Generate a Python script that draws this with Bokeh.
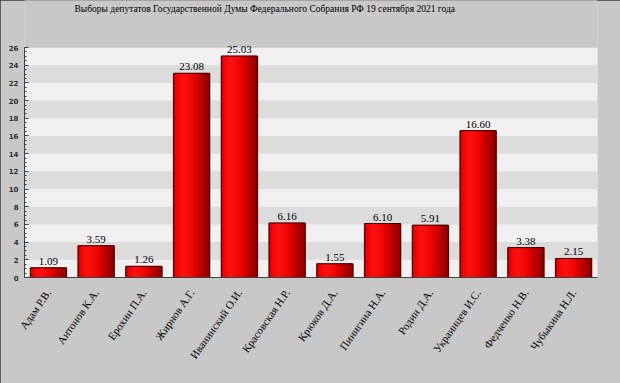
from bokeh.plotting import figure
from bokeh.models import ColumnDataSource, Range1d, FixedTicker, LabelSet, Label, BoxAnnotation
from bokeh.transform import dodge
from bokeh.embed import file_html
from bokeh.resources import INLINE

# ---- data ----
names = ["Адам Р.В.", "Антонов К.А.", "Ерохин П.А.", "Жирнов А.Г.", "Иванинский О.И.",
         "Красовская Н.Р.", "Крюков Д.А.", "Пинигина Н.А.", "Родин Д.А.", "Украинцев И.С.",
         "Федченко Н.В.", "Чубыкина Н.Л."]
values = [1.09, 3.59, 1.26, 23.08, 25.03, 6.16, 1.55, 6.10, 5.91, 16.60, 3.38, 2.15]
labels = [f"{v:.2f}" for v in values]
y_ticks = list(range(0, 27, 2))
title_text = "Выборы депутатов Государственной Думы Федерального Собрания РФ 19 сентября 2021 года"

src = ColumnDataSource(dict(name=names, value=values, label=labels))

W, H = 620, 383
FRAME_BOTTOM = 277   # px from top of canvas where value 0 lies
AXIS_TOP = 47        # px from top where the axis maximum lies
y_max = y_ticks[-1]
y_end = y_max * FRAME_BOTTOM / (FRAME_BOTTOM - AXIS_TOP)   # frame extends to canvas top

p = figure(x_range=names, y_range=Range1d(0, y_end), width=W, height=H,
           output_backend="svg", toolbar_location=None,
           min_border_left=24, min_border_right=23, min_border_top=0,
           min_border_bottom=H - FRAME_BOTTOM)
p.border_fill_color = "#c8c8c8"
p.background_fill_color = "#c8c8c8"
p.outline_line_color = None
p.styles = {"outline": "2px solid #3c3c3c", "outline-offset": "-2px"}

# light plotting area up to the axis maximum (drawn beneath the grid bands)
p.add_layout(BoxAnnotation(bottom=0, top=y_max, fill_color="#f0f0f0", fill_alpha=1.0,
                           line_color=None, level="image"))

# grid bands
p.xgrid.grid_line_color = None
p.ygrid.grid_line_color = None
p.ygrid.ticker = FixedTicker(ticks=y_ticks)
p.ygrid.band_fill_color = "#dcdcdc"
p.ygrid.band_fill_alpha = 1.0

# grey cover above the axis maximum (over any band beyond the last tick)
p.add_layout(BoxAnnotation(bottom=y_max, fill_color="#c8c8c8", fill_alpha=1.0,
                           line_color=None, level="underlay"))

# title (screen units are relative to the frame's lower-left corner)
ttl = Label(x=50, y=FRAME_BOTTOM - 8, x_units="screen", y_units="screen", text=title_text,
            text_font="Liberation Serif", text_font_size="9.5px", text_color="#000000",
            text_align="left", text_baseline="alphabetic")
p.add_layout(ttl)

# gradient bars built from slices
def shade(t):
    pts = [(0.0, 0.84), (0.12, 0.95), (0.3, 1.0), (0.55, 0.93), (0.8, 0.72), (1.0, 0.55)]
    for (a, va), (b, vb) in zip(pts[:-1], pts[1:]):
        if a <= t <= b:
            return va + (vb - va) * (t - a) / (b - a)
    return pts[-1][1]

bar_w = 0.75
n = 16
sw = bar_w / n
for k in range(n):
    t = (k + 0.5) / n
    b = shade(t)
    r = int(255 * b)
    g = int(18 * max(0.0, (b - 0.9) / 0.1))
    col = "#%02x%02x%02x" % (r, g, g)
    off = -bar_w / 2 + (k + 0.5) * sw
    p.vbar(x=dodge("name", off, range=p.x_range), top="value", bottom=0, width=sw * 1.4,
           source=src, fill_color=col, line_color=col, line_width=0.6)
p.vbar(x="name", top="value", bottom=0, width=bar_w, source=src,
       fill_color=None, line_color="#3a0000", line_width=1)

# value labels
lbl = LabelSet(x="name", y="value", text="label", source=src, text_align="center",
               text_baseline="bottom", y_offset=3, text_font="Liberation Serif",
               text_font_size="11px", text_color="#000000")
p.add_layout(lbl)

# axes
p.yaxis.ticker = FixedTicker(ticks=y_ticks, minor_ticks=[i * 0.5 for i in range(2 * y_max + 1)])
p.yaxis.bounds = (0, y_max)
p.yaxis.major_label_text_font = "DejaVu Sans"
p.yaxis.major_label_text_font_size = "7px"
p.yaxis.major_label_text_font_style = "bold"
p.yaxis.major_label_text_color = "#303030"
p.yaxis.major_tick_in = 4
p.yaxis.major_tick_out = 0
p.yaxis.minor_tick_in = 2
p.yaxis.minor_tick_out = 0
p.yaxis.major_label_standoff = 6
p.yaxis.axis_line_color = "#404040"
p.yaxis.major_tick_line_color = "#404040"
p.yaxis.minor_tick_line_color = "#404040"

p.xaxis.axis_line_color = "#404040"
p.xaxis.major_tick_line_color = None
p.xaxis.major_label_orientation = 0.96
p.xaxis.major_label_text_font = "Liberation Serif"
p.xaxis.major_label_text_font_size = "11px"
p.xaxis.major_label_text_color = "#000000"
p.xaxis.major_label_standoff = 7

open("out.html", "w").write(file_html(p, INLINE))
